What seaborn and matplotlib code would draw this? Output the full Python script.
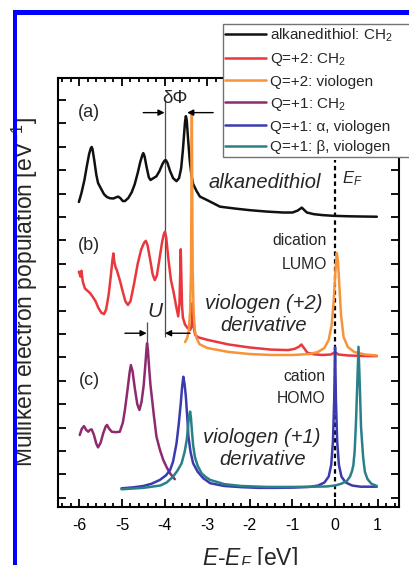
import numpy as np
import pandas as pd
import matplotlib
matplotlib.use("Agg")
import matplotlib.pyplot as plt
import seaborn as sns
from matplotlib.patches import Rectangle
from matplotlib.ticker import MultipleLocator

# ---------------- data ----------------
alk_x = [-6.01, -5.95, -5.88, -5.82, -5.77, -5.73, -5.71, -5.69, -5.65, -5.60, -5.56, -5.50, -5.42,
         -5.35, -5.28, -5.20, -5.12, -5.09, -5.04, -4.98, -4.93, -4.85, -4.77, -4.70, -4.63, -4.57,
         -4.52, -4.50, -4.47, -4.42, -4.37, -4.33, -4.26, -4.19, -4.12, -4.05, -4.00, -3.97, -3.93,
         -3.87, -3.80, -3.72, -3.66, -3.61, -3.57, -3.54, -3.52, -3.50, -3.48, -3.45, -3.41, -3.37,
         -3.33, -3.25, -3.17, -3.00, -2.70, -2.35, -2.00, -1.60, -1.22, -1.00, -0.88, -0.78, -0.72,
         -0.66, -0.50, -0.30, -0.05, 0.30, 0.60, 0.98]
alk_y = [12.64, 13.02, 13.58, 14.21, 14.69, 14.94, 14.99, 14.90, 14.43, 13.79, 13.45, 13.24, 12.97,
         12.85, 12.80, 12.79, 12.85, 12.87, 12.81, 12.68, 12.68, 12.81, 13.06, 13.40, 13.88, 14.35,
         14.65, 14.73, 14.60, 14.12, 13.70, 13.58, 13.66, 13.74, 13.96, 14.26, 14.41, 14.43, 14.30,
         13.96, 13.66, 13.53, 13.66, 14.09, 14.86, 15.59, 16.06, 16.31, 16.14, 15.37, 14.43, 13.79,
         13.41, 13.11, 12.87, 12.72, 12.44, 12.36, 12.29, 12.23, 12.19, 12.19, 12.27, 12.40, 12.29,
         12.19, 12.12, 12.08, 12.05, 12.03, 12.02, 12.01]

q2ch_x = [-6.01, -5.97, -5.95, -5.92, -5.87, -5.83, -5.75, -5.69, -5.62, -5.55, -5.48, -5.42, -5.37,
          -5.31, -5.26, -5.22, -5.20, -5.18, -5.15, -5.12, -5.05, -4.98, -4.92, -4.86, -4.80, -4.72,
          -4.63, -4.55, -4.48, -4.44, -4.40, -4.34, -4.28, -4.23, -4.18, -4.12, -4.06, -4.02, -3.99,
          -3.96, -3.91, -3.85, -3.79, -3.73, -3.68, -3.65, -3.63, -3.62, -3.61, -3.59, -3.57, -3.52,
          -3.46, -3.40, -3.37, -3.35, -3.34, -3.33, -3.31, -3.28, -3.20, -3.00, -2.50, -2.00, -1.50,
          -1.10, -0.95, -0.85, -0.79, -0.73, -0.65, -0.50, -0.30, -0.10, 0.00, 0.08, 0.30, 0.60, 0.98]
q2ch_y = [9.66, 9.45, 9.70, 9.25, 8.95, 8.88, 8.75, 8.60, 8.40, 8.10, 7.90, 7.85, 8.05,
          8.70, 9.50, 10.20, 10.44, 10.10, 9.85, 9.73, 9.30, 8.80, 8.40, 8.24, 8.40, 9.10,
          10.00, 10.60, 10.90, 10.98, 10.80, 10.20, 9.55, 9.30, 9.50, 10.20, 10.90, 11.25, 11.37,
          11.10, 10.20, 9.30, 8.80, 8.20, 7.75, 8.30, 9.80, 10.62, 9.80, 8.20, 7.70, 7.40,
          7.25, 7.17, 7.30, 7.80, 8.32, 7.90, 7.20, 6.95, 6.85, 6.75, 6.55, 6.42, 6.33,
          6.31, 6.36, 6.45, 6.55, 6.40, 6.20, 6.13, 6.10, 6.12, 6.22, 6.12, 6.08, 6.06, 6.05]

q2vi_x = [-3.52, -3.47, -3.43, -3.40, -3.38, -3.37, -3.36, -3.35, -3.34, -3.32, -3.29, -3.25, -3.18,
          -3.00, -2.50, -2.00, -1.50, -1.00, -0.60, -0.40, -0.25, -0.15, -0.08, -0.03, 0.01, 0.04,
          0.07, 0.10, 0.14, 0.20, 0.30, 0.45, 0.70, 0.98]
q2vi_y = [6.65, 6.82, 7.16, 8.02, 9.73, 12.71, 16.44, 12.71, 9.73, 8.02, 7.16, 6.82, 6.56,
          6.40, 6.23, 6.14, 6.10, 6.10, 6.14, 6.23, 6.40, 6.74, 7.38, 8.45, 9.73, 10.46,
          10.07, 9.09, 7.81, 6.87, 6.44, 6.23, 6.12, 6.08]

q1ch_x = [-5.99, -5.94, -5.89, -5.84, -5.79, -5.75, -5.71, -5.66, -5.60, -5.56, -5.50, -5.44, -5.38,
          -5.35, -5.30, -5.24, -5.15, -5.05, -4.98, -4.93, -4.87, -4.82, -4.79, -4.75, -4.70, -4.64,
          -4.59, -4.54, -4.49, -4.45, -4.42, -4.41, -4.39, -4.36, -4.33, -4.30, -4.25, -4.19, -4.11,
          -4.03, -3.95, -3.87, -3.76]
q1ch_y = [2.68, 2.95, 3.06, 2.90, 2.82, 2.90, 2.92, 2.70, 2.30, 2.15, 2.35, 2.75, 3.05,
          3.11, 2.95, 2.82, 2.80, 2.82, 3.20, 3.75, 4.60, 5.35, 5.67, 5.40, 4.70, 4.00,
          3.75, 4.10, 4.80, 5.70, 6.45, 6.60, 6.30, 5.50, 4.80, 4.32, 3.50, 2.61, 2.05,
          1.61, 1.30, 1.04, 0.79]

q1a_x = [-5.01, -4.75, -4.50, -4.30, -4.11, -3.97, -3.87, -3.80, -3.72, -3.67, -3.62, -3.59, -3.56,
         -3.53, -3.50, -3.47, -3.44, -3.39, -3.33, -3.22, -3.09, -2.93, -2.60, -2.20, -1.80, -1.40,
         -1.00, -0.60, -0.40, -0.25, -0.15, -0.09, -0.05, -0.02, 0.00, 0.02, 0.05, 0.09, 0.15,
         0.25, 0.40, 0.60, 0.98]
q1a_y = [0.40, 0.44, 0.50, 0.60, 0.76, 0.95, 1.18, 1.55, 2.32, 3.10, 4.03, 4.70, 5.17,
         4.85, 4.32, 3.50, 2.61, 1.95, 1.47, 1.10, 0.83, 0.62, 0.50, 0.45, 0.42, 0.42,
         0.43, 0.46, 0.52, 0.65, 0.90, 1.40, 2.40, 4.20, 6.43, 4.20, 2.40, 1.40, 0.90,
         0.65, 0.52, 0.47, 0.47]

q1b_x = [-5.01, -4.50, -4.10, -3.95, -3.80, -3.70, -3.60, -3.53, -3.48, -3.45, -3.43, -3.40, -3.38,
         -3.36, -3.33, -3.29, -3.22, -3.13, -3.03, -2.93, -2.60, -2.20, -1.60, -1.00, -0.50, -0.20,
         0.00, 0.15, 0.28, 0.35, 0.40, 0.43, 0.46, 0.49, 0.52, 0.55, 0.58, 0.61, 0.63, 0.66, 0.70,
         0.76, 0.85, 0.98]
q1b_y = [0.36, 0.42, 0.52, 0.65, 0.90, 1.15, 1.47, 1.95, 2.47, 3.00, 3.46, 3.68, 3.40,
         2.89, 2.25, 1.75, 1.35, 1.04, 0.88, 0.76, 0.58, 0.50, 0.46, 0.46, 0.47, 0.48,
         0.52, 0.60, 0.72, 0.90, 1.15, 1.40, 2.00, 3.19, 4.80, 6.45, 4.80, 3.00, 2.47, 1.70, 1.10,
         0.80, 0.60, 0.50]

series_names = ["alkanedithiol: CH$_2$", "Q=+2: CH$_2$", "Q=+2: viologen",
                "Q=+1: CH$_2$", "Q=+1: α, viologen", "Q=+1: β, viologen"]
series_x = [alk_x, q2ch_x, q2vi_x, q1ch_x, q1a_x, q1b_x]
series_y = [alk_y, q2ch_y, q2vi_y, q1ch_y, q1a_y, q1b_y]
series_colors = ["#111111", "#e8383d", "#f7943a", "#8e2a6e", "#3b3bb0", "#2a8088"]

x_ticks = [-6, -5, -4, -3, -2, -1, 0, 1]

# ---------------- style ----------------
sns.set_style("ticks")
plt.rcParams['font.family'] = ['Liberation Sans', 'DejaVu Sans']
plt.rcParams['mathtext.fontset'] = 'custom'
plt.rcParams['mathtext.rm'] = 'Liberation Sans'
plt.rcParams['mathtext.it'] = 'Liberation Sans:italic'
plt.rcParams['mathtext.bf'] = 'Liberation Sans:bold'
plt.rcParams['axes.unicode_minus'] = False

W, H = 410, 565
fig = plt.figure(figsize=(W / 100, H / 100), dpi=100)
ax = fig.add_axes([58 / W, 1 - 506.7 / H, (399 - 58) / W, (506.7 - 78) / H])

handles = []
for name, xs, ys, col in zip(series_names, series_x, series_y, series_colors):
    df = pd.DataFrame({"E": xs, "pop": ys})
    sns.lineplot(data=df, x="E", y="pop", ax=ax, color=col, lw=1.8,
                 estimator=None, sort=False)
    handles.append(ax.get_lines()[-1])
if ax.get_legend() is not None:
    ax.get_legend().remove()

ax.set_xlim(-6.5, 1.5)
ax.set_ylim(-0.385, 17.94)
ax.set_xticks(x_ticks)
ax.set_xticklabels([str(t) for t in x_ticks])
ax.xaxis.set_minor_locator(MultipleLocator(0.2))
ax.yaxis.set_major_locator(MultipleLocator(1))
ax.tick_params(which='both', direction='in', top=True, right=True, width=1.3, colors='k')
ax.tick_params(which='major', length=6, labelsize=11.5, pad=8)
ax.tick_params(which='minor', length=3)
ax.tick_params(axis='y', labelleft=False)
for sp in ax.spines.values():
    sp.set_linewidth(1.5)
    sp.set_color('k')

ax.set_xlabel(r"$E$-$E_F$ [eV]", fontsize=16.5)
ax.xaxis.set_label_coords((250 - 58) / 341, -(545 - 506.7) / 428.7)
ax.set_ylabel("Mulliken electron population [eV$^{-1}$]", fontsize=16.5)
ax.yaxis.set_label_coords((40 - 58) / 341, 0.5)

# Fermi level
ax.vlines(0, 0.03, 14.42, colors='k', linestyles=(0, (2, 1.5)), lw=1.6, zorder=1)
ax.text(0.16, 13.62, "$E_F$", fontsize=12, ha='left', va='center')

# helper lines and arrows
ax.vlines(-4.0, 6.86, 17.0, colors='0.3', lw=0.9, zorder=1)
ax.vlines(-4.41, 6.6, 7.5, colors='0.3', lw=0.9, zorder=1)
arr = dict(arrowstyle='-|>', color='k', lw=1.0, shrinkA=0, shrinkB=0, mutation_scale=9)
ax.annotate('', xy=(-4.0, 16.46), xytext=(-4.5, 16.46), arrowprops=arr)
ax.annotate('', xy=(-3.47, 16.46), xytext=(-2.86, 16.46), arrowprops=arr)
ax.annotate('', xy=(-4.42, 7.03), xytext=(-4.93, 7.03), arrowprops=arr)
ax.annotate('', xy=(-3.99, 7.03), xytext=(-3.40, 7.03), arrowprops=arr)
ax.text(-3.76, 17.08, "δΦ", fontsize=13.5, ha='center', va='center')
ax.text(-4.23, 7.98, "U", fontsize=15, style='italic', ha='center', va='center')

# panel labels
for lab, yy in [("(a)", 16.48), ("(b)", 10.76), ("(c)", 5.03)]:
    ax.text(-5.77, yy, lab, fontsize=13, ha='center', va='center')

# annotations
ax.text(-1.64, 13.49, "alkanedithiol", fontsize=14.5, style='italic', ha='center', va='center')
ax.text(-0.19, 11.0, "dication", fontsize=11.3, ha='right', va='center')
ax.text(-0.19, 9.98, "LUMO", fontsize=11.3, ha='right', va='center')
ax.text(-1.67, 8.32, "viologen (+2)", fontsize=14.5, style='italic', ha='center', va='center')
ax.text(-1.67, 7.37, "derivative", fontsize=14.5, style='italic', ha='center', va='center')
ax.text(-0.23, 5.2, "cation", fontsize=11.3, ha='right', va='center')
ax.text(-0.23, 4.22, "HOMO", fontsize=11.3, ha='right', va='center')
ax.text(-1.71, 2.59, "viologen (+1)", fontsize=14.5, style='italic', ha='center', va='center')
ax.text(-1.71, 1.65, "derivative", fontsize=14.5, style='italic', ha='center', va='center')

# legend (its right part runs past the image edge, as in the reference)
leg = fig.legend(handles, series_names, loc='lower left', mode='expand',
                 bbox_to_anchor=(222.7 / W, 1 - 156.7 / H, 0.5, 0.0), bbox_transform=fig.transFigure,
                 frameon=True, fancybox=False, edgecolor='0.45', framealpha=1,
                 fontsize=11, handlelength=2.7, handletextpad=0.25, borderpad=0.15,
                 labelspacing=0.45, borderaxespad=0)
leg.get_frame().set_linewidth(1.0)
for lh in leg.get_lines():
    lh.set_linewidth(1.8)

# blue frame of the screenshot
fig.patches.append(Rectangle((12.7 / W, 0), 4 / W, (H - 10) / H, transform=fig.transFigure,
                             facecolor='#0000ff', edgecolor='none', zorder=10))
fig.patches.append(Rectangle((12.7 / W, 1 - 15 / H), (W - 12.7) / W, 5 / H, transform=fig.transFigure,
                             facecolor='#0000ff', edgecolor='none', zorder=10))

fig.savefig("out.png", dpi=100)
